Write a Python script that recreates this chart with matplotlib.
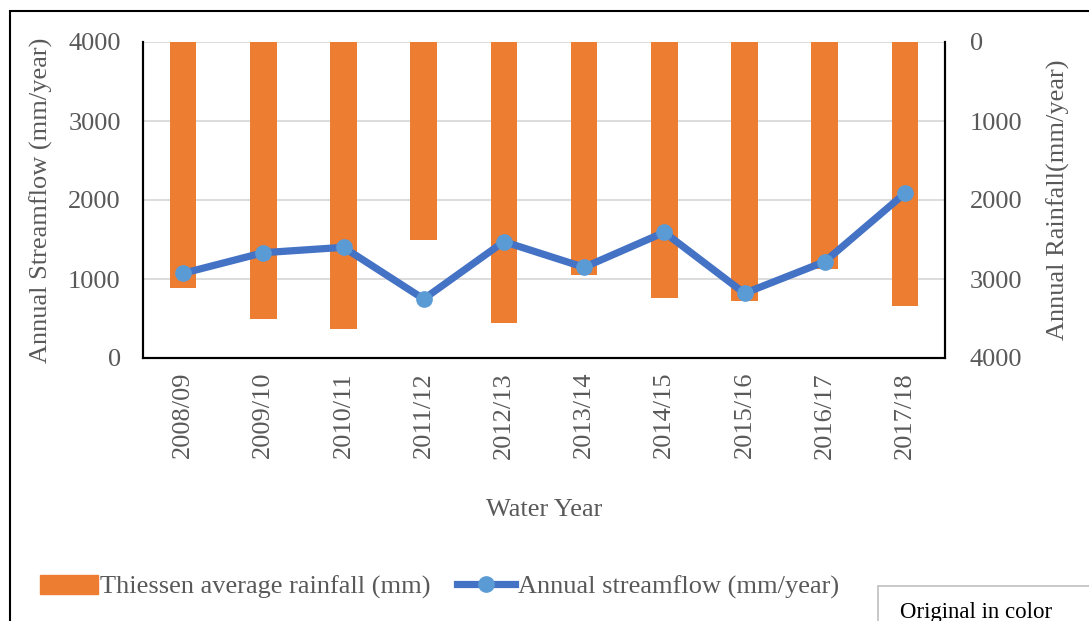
import matplotlib
matplotlib.use("Agg")
import matplotlib.pyplot as plt
from matplotlib.patches import Rectangle
from matplotlib.lines import Line2D
import numpy as np

years = ["2008/09", "2009/10", "2010/11", "2011/12", "2012/13",
         "2013/14", "2014/15", "2015/16", "2016/17", "2017/18"]
rainfall = [3118, 3510, 3629, 2502, 3561, 2945, 3245, 3274, 2873, 3338]
streamflow = [1072, 1333, 1401, 747, 1473, 1148, 1591, 819, 1219, 2085]
yticks = [0, 1000, 2000, 3000, 4000]

W, H = 1089, 621
plt.rcParams['font.family'] = ['Liberation Serif', 'DejaVu Serif']
fig = plt.figure(figsize=(W / 100, H / 100), dpi=100)

def fx(px):
    return px / W

def fy(py):
    return 1 - py / H

L, R, T, B = 143, 945, 42, 358
ax = fig.add_axes([fx(L), fy(B), fx(R) - fx(L), fy(T) - fy(B)])
ax2 = ax.twinx()
ax.set_zorder(2)
ax.patch.set_visible(False)

x = np.arange(len(years))
grey = '#595959'
fs = 19

# rainfall bars on right (inverted) axis
ax2.bar(x, rainfall, width=0.33, color='#ED7D31', zorder=2)
ax2.set_ylim(4000, 0)
ax2.set_yticks(yticks)
ax2.set_axisbelow(True)
ax2.yaxis.grid(True, color='#D9D9D9', lw=1.3, zorder=0)
ax2.tick_params(axis='y', length=0, labelsize=fs, labelcolor=grey, pad=18)
ax2.set_ylabel("Annual Rainfall(mm/year)", fontsize=fs, color=grey, labelpad=17)

# streamflow line on left axis
ax.plot(x, streamflow, color='#4472C4', lw=5.2, marker='o', markersize=11,
        markerfacecolor='#5B9BD5', markeredgecolor='#5B9BD5', zorder=3)
ax.set_ylim(0, 4000)
ax.set_yticks(yticks)
ax.set_xlim(-0.5, len(years) - 0.5)
ax.set_xticks(x)
ax.set_xticklabels(years, rotation=90)
ax.tick_params(axis='both', length=0, labelsize=fs, labelcolor=grey)
ax.tick_params(axis='y', pad=16)
ax.tick_params(axis='x', pad=10)
ax.set_ylabel("Annual Streamflow (mm/year)", fontsize=fs, color=grey, labelpad=11)
ax.set_xlabel("Water Year", fontsize=fs, color=grey, labelpad=29)

for a in (ax, ax2):
    a.spines['top'].set_visible(False)
    for s in ('left', 'right', 'bottom'):
        a.spines[s].set_color('black')
        a.spines[s].set_linewidth(1.5)

# legend
handles = [Rectangle((0, 0), 1, 1, color='#ED7D31'),
           Line2D([0], [0], color='#4472C4', lw=5.2, marker='o', markersize=11,
                  markerfacecolor='#5B9BD5', markeredgecolor='#5B9BD5')]
labels = ["Thiessen average rainfall (mm)", "Annual streamflow (mm/year)"]
fig.legend(handles, labels, loc='center left', bbox_to_anchor=(fx(16), fy(587)),
           ncol=2, frameon=False, fontsize=fs, labelcolor=grey,
           handlelength=2.2, handletextpad=0.1, columnspacing=1.0)

# outer frame
fig.add_artist(Rectangle((fx(10), fy(700)), fx(1200), fy(11) - fy(700),
                         transform=fig.transFigure, fill=False,
                         edgecolor='black', lw=1.5))
# "Original in color" box
fig.add_artist(Rectangle((fx(878), fy(700)), fx(400), fy(586) - fy(700),
                         transform=fig.transFigure, facecolor='white',
                         edgecolor='#BFBFBF', lw=1.2))
fig.text(fx(900), fy(618), "Original in color", fontsize=16.5, color='black',
         va='baseline', ha='left')

fig.savefig("out.png", dpi=100)
